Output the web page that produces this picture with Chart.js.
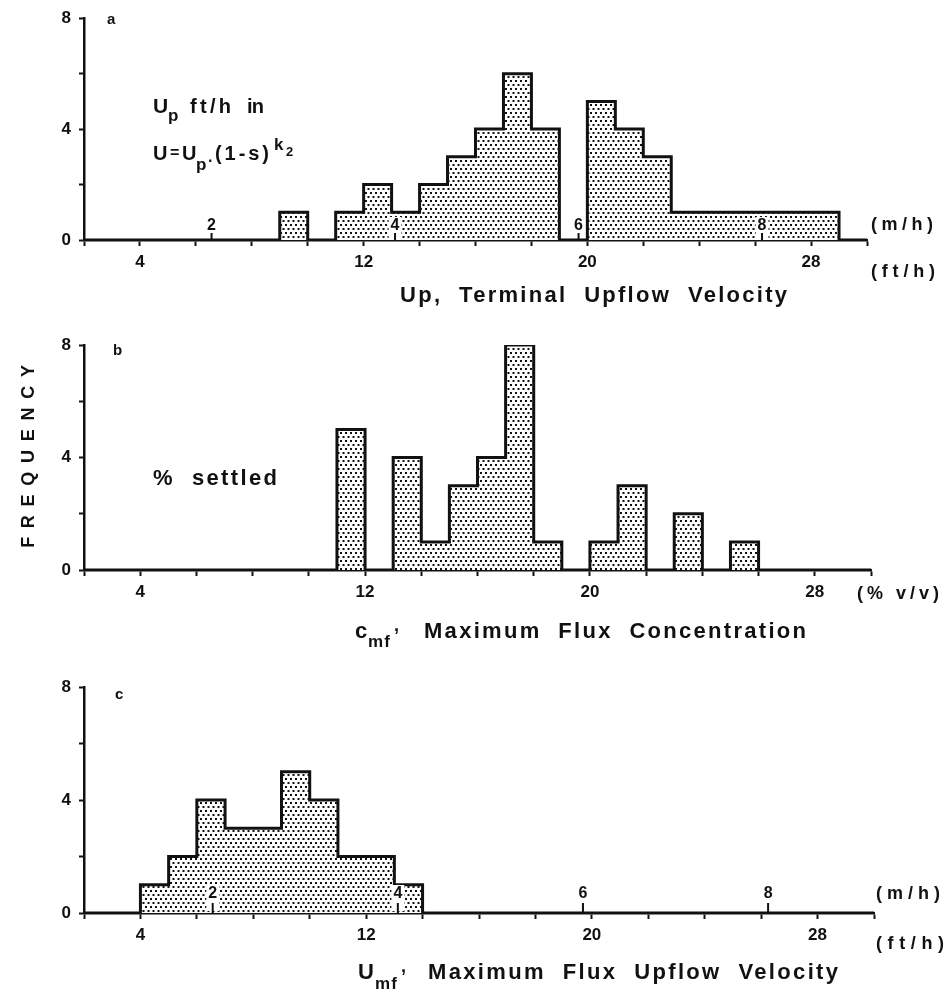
<!DOCTYPE html>
<html>
<head>
<meta charset="utf-8">
<script src="https://cdn.jsdelivr.net/npm/chart.js@4/dist/chart.umd.min.js"></script>
<style>
  body { margin: 0; background: #fff; }
  #wrap { position: relative; width: 948px; height: 993px; }
  canvas { position: absolute; left: 0; }
</style>
</head>
<body>
<div id="wrap">
  <canvas id="chartA" width="948" height="320" style="top:0px"></canvas>
  <canvas id="chartB" width="948" height="330" style="top:320px"></canvas>
  <canvas id="chartC" width="948" height="343" style="top:650px"></canvas>
</div>
<script>
// bins are 1 unit wide (ft/h, or % v/v for panel b), starting at these values
const binStarts = [2, 3, 4, 5, 6, 7, 8, 9, 10, 11, 12, 13, 14, 15, 16, 17, 18, 19, 20, 21, 22, 23, 24, 25, 26, 27, 28, 29];
const axisEnd = 30;

// a: Up, terminal upflow velocity
const upflowCounts = [0, 0, 0, 0, 0, 0, 0, 1, 0, 1, 2, 1, 2, 3, 4, 6, 4, 0, 5, 4, 3, 1, 1, 1, 1, 1, 1, 0];
// b: cmf, maximum flux concentration
const concCounts = [0, 0, 0, 0, 0, 0, 0, 0, 0, 5, 0, 4, 1, 3, 4, 8, 1, 0, 1, 3, 0, 2, 0, 1, 0, 0, 0, 0];
// c: Umf, maximum flux upflow velocity
const maxFluxCounts = [0, 0, 1, 2, 4, 3, 3, 5, 4, 2, 2, 1, 0, 0, 0, 0, 0, 0, 0, 0, 0, 0, 0, 0, 0, 0, 0, 0];

const xLabelTicks = [4, 12, 20, 28];
const freqLabelTicks = [0, 4, 8];
const mhTicks = [2, 4, 6, 8];   // m/h, shown on ft/h scale
const FT_PER_M = 3.2808;

const INK = '#111';
const FONT = '"Liberation Sans", Arial, sans-serif';
Chart.defaults.font.family = FONT;
Chart.defaults.color = INK;

function makeStipple() {
  const tile = document.createElement('canvas');
  tile.width = 5; tile.height = 8;
  const t = tile.getContext('2d');
  t.fillStyle = '#fff';
  t.fillRect(0, 0, 5, 8);
  t.fillStyle = '#111';
  t.fillRect(0, 0, 2, 2);
  t.fillRect(2.5, 4, 2, 2);
  return t.createPattern(tile, 'repeat');
}
const stipple = makeStipple();

function stepData(counts) {
  return binStarts.map((x, i) => ({ x: x, y: counts[i] })).concat([{ x: axisEnd, y: 0 }]);
}

function fitText(ctx, text, x, y, width, size) {
  ctx.font = 'bold ' + size + 'px ' + FONT;
  ctx.letterSpacing = '0px';
  const w = ctx.measureText(text).width;
  const sp = (width - w) / Math.max(text.length - 1, 1);
  ctx.letterSpacing = sp + 'px';
  ctx.textAlign = 'left';
  ctx.textBaseline = 'alphabetic';
  ctx.fillText(text, x, y);
  ctx.letterSpacing = '0px';
}

function put(ctx, text, x, y, size, align) {
  ctx.font = 'bold ' + size + 'px ' + FONT;
  ctx.letterSpacing = '0px';
  ctx.textAlign = align || 'left';
  ctx.textBaseline = 'alphabetic';
  ctx.fillText(text, x, y);
}

// small m/h numbers sitting on the axis with short upward ticks
function drawMetric(chart, tickLen, rise) {
  const { ctx, chartArea } = chart;
  const xs = chart.scales.x;
  const y0 = chartArea.bottom;
  ctx.save();
  ctx.font = 'bold 16px ' + FONT;
  mhTicks.forEach(m => {
    const px = xs.getPixelForValue(m * FT_PER_M);
    const w = ctx.measureText(String(m)).width;
    ctx.fillStyle = '#fff';
    ctx.fillRect(px - w / 2 - 2, y0 - rise - 9, w + 4, rise + 9 - 2);
    ctx.strokeStyle = INK;
    ctx.lineWidth = 2;
    ctx.beginPath();
    ctx.moveTo(px, y0);
    ctx.lineTo(px, y0 - tickLen);
    ctx.stroke();
    ctx.fillStyle = INK;
    ctx.textAlign = 'center';
    ctx.textBaseline = 'middle';
    ctx.fillText(String(m), px, y0 - rise);
  });
  ctx.restore();
}

function makePanel(id, counts, area, extras) {
  const canvas = document.getElementById(id);
  return new Chart(canvas, {
    type: 'line',
    data: {
      datasets: [{
        data: stepData(counts),
        stepped: true,
        fill: 'origin',
        backgroundColor: stipple,
        borderColor: INK,
        borderWidth: 3,
        borderJoinStyle: 'miter',
        pointRadius: 0
      }]
    },
    options: {
      responsive: false,
      animation: false,
      layout: { padding: { top: area.top, right: canvas.width - area.right, bottom: 0, left: 0 } },
      plugins: { legend: { display: false }, tooltip: { enabled: false } },
      scales: {
        x: {
          type: 'linear', min: 2, max: axisEnd,
          afterFit: s => { s.height = canvas.height - area.bottom; },
          ticks: {
            stepSize: 2, autoSkip: false, maxRotation: 0, padding: 6,
            color: INK, font: { size: 17, weight: 'bold' },
            callback: v => xLabelTicks.includes(v) ? String(v) : ''
          },
          grid: { drawOnChartArea: false, tickLength: 6, tickColor: INK, tickWidth: 2 },
          border: { display: true, color: INK, width: 2.5 }
        },
        y: {
          min: 0, max: 8,
          afterFit: s => { s.width = area.left; },
          ticks: {
            stepSize: 2, padding: 8,
            color: INK, font: { size: 17, weight: 'bold' },
            callback: v => freqLabelTicks.includes(v) ? String(v) : ''
          },
          grid: { drawOnChartArea: false, tickLength: 5, tickColor: INK, tickWidth: 2 },
          border: { display: true, color: INK, width: 2.5 }
        }
      }
    },
    plugins: [{ id: 'extras', afterDraw: chart => { const c = chart.ctx; c.save(); c.fillStyle = INK; extras(chart, c); c.restore(); } }]
  });
}

// panel a
makePanel('chartA', upflowCounts, { left: 84, right: 867, top: 18, bottom: 240 }, (chart, ctx) => {
  put(ctx, 'a', 107, 24, 15);
  put(ctx, 'U', 153, 113, 21);
  put(ctx, 'p', 168, 121, 17);
  fitText(ctx, 'ft/h', 190, 113, 41, 20);
  fitText(ctx, 'in', 247, 113, 17, 20);
  put(ctx, 'U', 153, 160, 20);
  put(ctx, '=', 170, 158, 16);
  put(ctx, 'U', 182, 160, 20);
  put(ctx, 'p', 196, 170, 17);
  put(ctx, '·', 208, 166, 16);
  fitText(ctx, '(1-s)', 215, 160, 54, 20);
  put(ctx, 'k', 274, 150, 17);
  put(ctx, '2', 286, 156, 13);
  drawMetric(chart, 7, 14);
  fitText(ctx, '(m/h)', 871, 230, 62, 18);
  fitText(ctx, '(ft/h)', 871, 277, 64, 18);
  fitText(ctx, 'Up,  Terminal  Upflow  Velocity', 400, 302, 387, 22);
});

// panel b
makePanel('chartB', concCounts, { left: 84, right: 871, top: 25, bottom: 250 }, (chart, ctx) => {
  put(ctx, 'b', 113, 35, 15);
  fitText(ctx, '%  settled', 153, 165, 124, 22);
  fitText(ctx, '(% v/v)', 857, 279, 82, 18);
  put(ctx, 'c', 355, 318, 22);
  fitText(ctx, 'mf', 368, 327, 22, 17);
  put(ctx, ',', 394, 311, 18);
  fitText(ctx, 'Maximum  Flux  Concentration', 424, 318, 382, 22);
  // y axis title
  ctx.save();
  ctx.translate(34, 132);
  ctx.rotate(-Math.PI / 2);
  ctx.font = 'bold 18px ' + FONT;
  const w = ctx.measureText('FREQUENCY').width;
  ctx.letterSpacing = ((183 - w) / 8) + 'px';
  ctx.textAlign = 'center';
  ctx.textBaseline = 'alphabetic';
  ctx.fillText('FREQUENCY', 0, 0);
  ctx.restore();
});

// panel c
makePanel('chartC', maxFluxCounts, { left: 84, right: 874, top: 37, bottom: 263 }, (chart, ctx) => {
  put(ctx, 'c', 115, 49, 15);
  drawMetric(chart, 10, 19);
  fitText(ctx, '(m/h)', 876, 249, 64, 18);
  fitText(ctx, '(ft/h)', 876, 299, 68, 18);
  put(ctx, 'U', 358, 329, 22);
  fitText(ctx, 'mf', 375, 339, 22, 17);
  put(ctx, ',', 401, 322, 18);
  fitText(ctx, 'Maximum  Flux  Upflow  Velocity', 428, 329, 410, 22);
});
</script>
</body>
</html>
